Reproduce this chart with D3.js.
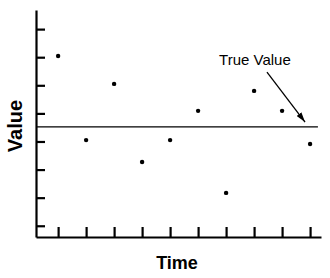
<!DOCTYPE html>
<html>
<head>
<meta charset="utf-8">
<script src="https://cdn.jsdelivr.net/npm/d3@7"></script>
<style>
  body { margin: 0; background: #fff; }
  text { font-family: Arial, "Liberation Sans", sans-serif; }
</style>
</head>
<body>
<div id="chart"></div>
<script>
// data
let times = [1, 2, 3, 4, 5, 6, 7, 8, 9, 10];
let values = [7.04, 4.05, 6.05, 3.27, 4.05, 5.09, 2.17, 5.80, 5.09, 3.91];
let trueValue = 4.52;
let yTicks = [1, 2, 3, 4, 5, 6, 7, 8];
let xLabel = "Time";
let yLabel = "Value";
let noteText = "True Value";

let width = 330;
let height = 278;

let svg = d3.select("#chart")
    .append("svg")
    .attr("width", width)
    .attr("height", height);

let xScale = d3.scaleLinear().domain([0.21, 10.39]).range([36, 321]);
let yScale = d3.scaleLinear().domain([0.6, 8.68]).range([237, 10]);

// arrow head
svg.append("defs").append("marker")
    .attr("id", "head")
    .attr("viewBox", "0 0 10 6")
    .attr("refX", 10)
    .attr("refY", 3)
    .attr("markerWidth", 10)
    .attr("markerHeight", 6)
    .attr("markerUnits", "userSpaceOnUse")
    .attr("orient", "auto")
    .append("path")
    .attr("d", "M0,0 L10,3 L0,6 Z")
    .attr("fill", "#000");

// y axis, ticks pointing in
let yAxis = d3.axisRight(yScale).tickValues(yTicks).tickSizeInner(9).tickSizeOuter(0).tickFormat("");
let gy = svg.append("g")
    .attr("transform", "translate(" + xScale.range()[0] + ",0)")
    .call(yAxis);

// x axis, ticks pointing up
let xAxis = d3.axisTop(xScale).tickValues(times).tickSizeInner(10).tickSizeOuter(0).tickFormat("");
let gx = svg.append("g")
    .attr("transform", "translate(0," + yScale.range()[0] + ")")
    .call(xAxis);

[gx, gy].forEach(function(g) {
    g.selectAll("path, line").attr("stroke", "#000").attr("stroke-width", 2.2);
});

// true value line
svg.append("line")
    .attr("x1", xScale.range()[0])
    .attr("x2", xScale(10.28))
    .attr("y1", yScale(trueValue))
    .attr("y2", yScale(trueValue))
    .attr("stroke", "#000")
    .attr("stroke-width", 1.3);

// points
svg.selectAll("circle")
    .data(values)
    .enter()
    .append("circle")
    .attr("cx", function(d, i) { return xScale(times[i]); })
    .attr("cy", function(d) { return yScale(d); })
    .attr("r", 2.2)
    .attr("fill", "#000");

// annotation
svg.append("text")
    .attr("x", xScale(6.75))
    .attr("y", yScale(6.72))
    .attr("font-size", 15)
    .text(noteText);

svg.append("line")
    .attr("x1", xScale(8.46))
    .attr("y1", yScale(6.47))
    .attr("x2", xScale(9.82))
    .attr("y2", yScale(4.69))
    .attr("stroke", "#000")
    .attr("stroke-width", 1.3)
    .attr("marker-end", "url(#head)");

// axis labels
svg.append("text")
    .attr("x", 177)
    .attr("y", 269)
    .attr("text-anchor", "middle")
    .attr("font-size", 18)
    .attr("font-weight", "bold")
    .text(xLabel);

svg.append("text")
    .attr("transform", "translate(22,126)rotate(-90)")
    .attr("text-anchor", "middle")
    .attr("font-size", 20)
    .attr("font-weight", "bold")
    .text(yLabel);
</script>
</body>
</html>
